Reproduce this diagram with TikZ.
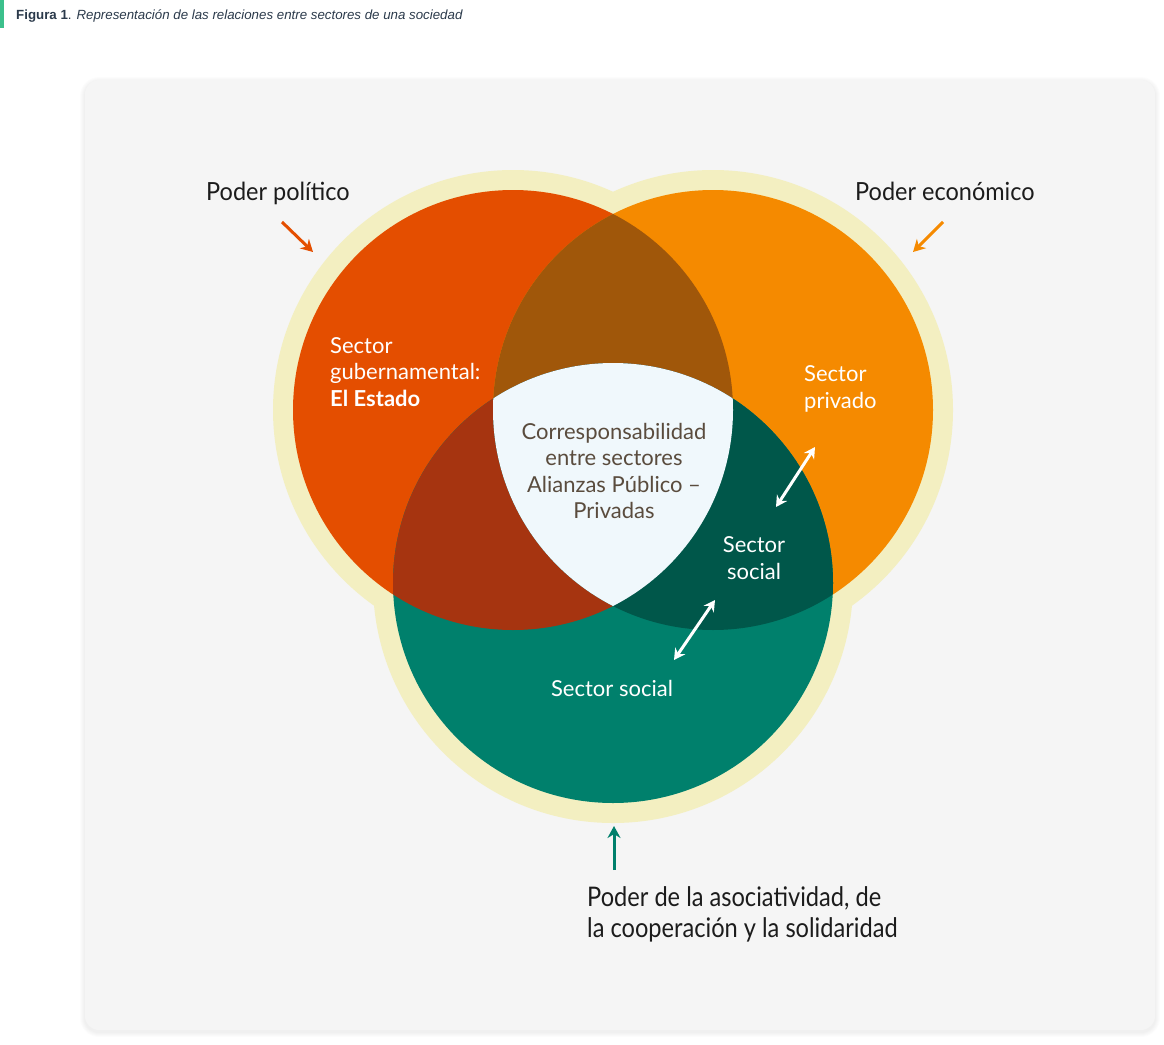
\documentclass[tikz,border=0pt]{standalone}
\usepackage{fontspec}
\setmainfont{Lato}
\newfontfamily\toplabelfont[FakeStretch=0.94]{Lato}
\newfontfamily\bottomlabelfont[FakeStretch=0.875]{Lato}
\newfontfamily\captionfont{Liberation Sans}
\usetikzlibrary{arrows.meta}

\definecolor{panelbg}{HTML}{F5F5F5}
\definecolor{ringc}{HTML}{F3EFC1}
\definecolor{redc}{HTML}{E44E00}
\definecolor{orangec}{HTML}{F58A00}
\definecolor{tealc}{HTML}{00806C}
\definecolor{brownc}{HTML}{A0570A}
\definecolor{rustc}{HTML}{A63410}
\definecolor{darkgreenc}{HTML}{00574A}
\definecolor{corec}{HTML}{F0F8FC}
\definecolor{coretext}{HTML}{5A4C3E}
\definecolor{captionc}{HTML}{2B3A4B}
\definecolor{barc}{HTML}{3CC08C}
\definecolor{powertext}{HTML}{1C1C1C}

\tikzset{
  powerlabel/.style={inner sep=0pt, text=powertext, font=\toplabelfont\fontsize{25}{31}\selectfont},
  bigpower/.style={inner sep=0pt, text=powertext, align=left, font=\bottomlabelfont\fontsize{27}{31.5}\selectfont},
  sectorlabel/.style={inner sep=0pt, text=white, font=\fontsize{22}{26.5}\selectfont},
  powerarrow/.style={line width=3pt, -{Stealth[length=12pt,width=13pt]}},
  linkarrow/.style={line width=3pt, white, {Stealth[length=11pt,width=12pt]}-{Stealth[length=11pt,width=12pt]}}
}

\begin{document}
\begin{tikzpicture}[x=1pt,y=-1pt]
  \useasboundingbox (0,0) rectangle (1164,1044);
  \fill[white] (0,0) rectangle (1164,1044);

  % caption
  \fill[barc] (0,0) rectangle (4,28);
  \node[anchor=base west, inner sep=0pt, text=captionc, font=\captionfont\fontsize{13.3}{15}\selectfont]
    (caption) at (16,19) {\textbf{Figura 1}. \textit{Representación de las relaciones entre sectores de una sociedad}};

  % panel with a soft shadow built from faint layers
  \foreach \s in {1,2,3,4,5}{
    \fill[black, opacity=0.012, rounded corners=14pt+\s pt]
      (85-\s,80-\s+2) rectangle (1155+\s,1030+\s+2);
  }
  \fill[panelbg, rounded corners=14pt] (85,80) rectangle (1155,1030);

  % circle centres
  \coordinate (cl) at (513,410);
  \coordinate (cr) at (713,410);
  \coordinate (cb) at (613,583);

  % halo rings
  \fill[ringc] (cl) circle[radius=240pt];
  \fill[ringc] (cr) circle[radius=240pt];
  \fill[ringc] (cb) circle[radius=240pt];

  % sectors
  \fill[redc] (cl) circle[radius=220pt];
  \fill[orangec] (cr) circle[radius=220pt];
  \fill[tealc] (cb) circle[radius=220pt];

  % pairwise overlaps
  \begin{scope}
    \clip (cl) circle[radius=220pt];
    \fill[brownc] (cr) circle[radius=220pt];
    \fill[rustc] (cb) circle[radius=220pt];
  \end{scope}
  \begin{scope}
    \clip (cr) circle[radius=220pt];
    \fill[darkgreenc] (cb) circle[radius=220pt];
  \end{scope}

  % shared core
  \begin{scope}
    \clip (cl) circle[radius=220pt];
    \clip (cr) circle[radius=220pt];
    \fill[corec] (cb) circle[radius=220pt];
  \end{scope}

  % power labels
  \node[powerlabel, anchor=base west] (polit) at (206,200) {Poder político};
  \node[powerlabel, anchor=base west] (econ) at (855,200) {Poder económico};
  \node[bigpower, anchor=north west] (soc) at (587,886) {Poder de la asociatividad, de\\la cooperación y la solidaridad};

  \coordinate (pa1) at (282,222);
  \coordinate (pa2) at (313,252);
  \coordinate (ea1) at (943,222);
  \coordinate (ea2) at (913,252);
  \coordinate (sa1) at (614,870);
  \coordinate (sa2) at (614,826);
  \draw[powerarrow, redc] (pa1) -- (pa2);
  \draw[powerarrow, orangec] (ea1) -- (ea2);
  \draw[powerarrow, tealc] (sa1) -- (sa2);

  % sector labels
  \node[sectorlabel, anchor=west, align=left] (gov) at (330,372)
    {Sector\\gubernamental:\\\textbf{El Estado}};
  \node[sectorlabel, anchor=west, align=left] (priv) at (804,389) {Sector\\privado};
  \node[sectorlabel, align=center] (socin) at (754,558) {Sector\\social};
  \node[sectorlabel] (socout) at (612,688) {Sector social};
  \node[sectorlabel, text=coretext, align=center] (core) at (614,471)
    {Corresponsabilidad\\entre sectores\\Alianzas Público –\\Privadas};

  % links between sectors
  \coordinate (l1a) at (776,507);
  \coordinate (l1b) at (815,447);
  \coordinate (l2a) at (674,660);
  \coordinate (l2b) at (715,600);
  \draw[linkarrow] (l1a) -- (l1b);
  \draw[linkarrow] (l2a) -- (l2b);
\end{tikzpicture}
\end{document}
